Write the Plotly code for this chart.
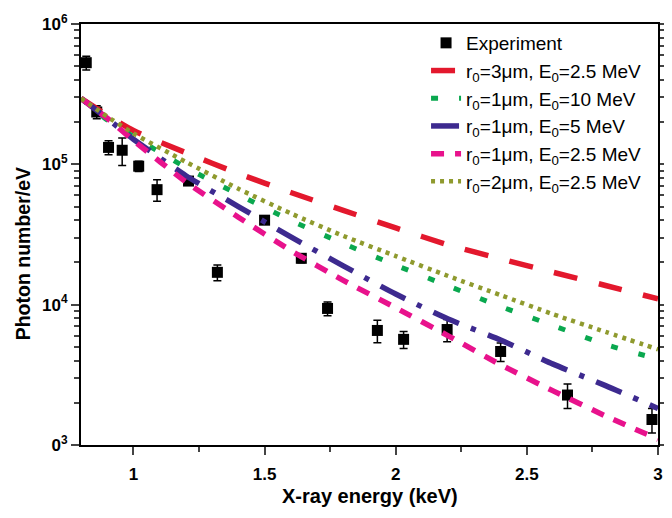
import plotly.graph_objects as go

# Experiment data (X-ray energy in keV, photon number per eV)
exp_energy = [0.82, 0.86, 0.905, 0.957, 1.02, 1.09, 1.21, 1.32, 1.50, 1.64, 1.74, 1.93, 2.03, 2.196, 2.40, 2.655, 2.977]
exp_counts = [5.3e5, 2.36e5, 1.32e5, 1.26e5, 9.7e4, 6.6e4, 7.6e4, 1.70e4, 4.0e4, 2.14e4, 9.4e3, 6.55e3, 5.66e3, 6.65e3, 4.64e3, 2.27e3, 1.52e3]
exp_err = [6.0e4, 2.5e4, 1.5e4, 2.8e4, 8.0e3, 1.15e4, 4.0e3, 2.2e3, 2.0e3, 1.5e3, 1.05e3, 1.2e3, 7.8e2, 1.2e3, 7.0e2, 4.5e2, 3.0e2]

# Model curves
model_energy = [0.8, 0.9, 1.0, 1.2, 1.4, 1.6, 1.8, 2.0, 2.2, 2.4, 2.6, 2.8, 3.0]
r3_e25 = [2.95e5, 2.24e5, 1.74e5, 1.21e5, 8.6e4, 6.3e4, 4.7e4, 3.52e4, 2.67e4, 2.12e4, 1.70e4, 1.37e4, 1.10e4]
r1_e10 = [2.95e5, 2.07e5, 1.58e5, 9.5e4, 6.1e4, 3.98e4, 2.73e4, 1.91e4, 1.36e4, 9.7e3, 7.1e3, 5.2e3, 4.1e3]
r1_e5 = [2.95e5, 2.12e5, 1.51e5, 8.3e4, 5.0e4, 3.04e4, 1.89e4, 1.19e4, 7.9e3, 5.6e3, 3.77e3, 2.65e3, 1.82e3]
r1_e25 = [2.95e5, 2.13e5, 1.48e5, 7.5e4, 4.2e4, 2.43e4, 1.49e4, 9.5e3, 6.0e3, 3.73e3, 2.43e3, 1.61e3, 1.10e3]
r2_e25 = [2.95e5, 2.19e5, 1.66e5, 1.04e5, 6.7e4, 4.47e4, 3.09e4, 2.22e4, 1.60e4, 1.17e4, 8.55e3, 6.4e3, 4.8e3]

y_tickvals = [1e3, 1e4, 1e5, 1e6]
y_ticktext = ['<b>0<sup>3</sup></b>', '<b>10<sup>4</sup></b>', '<b>10<sup>5</sup></b>', '<b>10<sup>6</sup></b>']
x_tickvals = [1, 1.5, 2, 2.5, 3]
x_ticktext = ['<b>1</b>', '<b>1.5</b>', '<b>2</b>', '<b>2.5</b>', '<b>3</b>']

fig = go.Figure()

fig.add_trace(go.Scatter(
    x=exp_energy, y=exp_counts,
    mode='markers',
    marker=dict(symbol='square', size=11, color='black'),
    error_y=dict(type='data', array=exp_err, color='black', thickness=1.5, width=4),
    name='Experiment'
))

curves = [
    (r3_e25, 'r<sub>0</sub>=3\u03bcm, E<sub>0</sub>=2.5 MeV', '#e3182d', '24px,22px', 5.5),
    (r1_e10, 'r<sub>0</sub>=1\u03bcm, E<sub>0</sub>=10 MeV', '#0aa84f', '7px,21px', 5),
    (r1_e5, 'r<sub>0</sub>=1\u03bcm, E<sub>0</sub>=5 MeV', '#3d2a8f', '28px,13px,5px,13px', 5.5),
    (r1_e25, 'r<sub>0</sub>=1\u03bcm, E<sub>0</sub>=2.5 MeV', '#e8128c', '13px,11px', 5.5),
    (r2_e25, 'r<sub>0</sub>=2\u03bcm, E<sub>0</sub>=2.5 MeV', '#8f9a2e', '4px,5px', 4.5),
]
for vals, label, color, dash, lw in curves:
    fig.add_trace(go.Scatter(
        x=model_energy, y=vals,
        mode='lines',
        line=dict(color=color, width=lw, dash=dash, shape='spline', smoothing=0.6),
        name=label
    ))

# page body adds an 8px offset, so the figure is 664x510
fig.update_layout(
    width=664, height=510,
    margin=dict(l=73, r=4, t=9, b=73),
    plot_bgcolor='white', paper_bgcolor='white',
    font=dict(family='Liberation Sans, Arial', color='black'),
    showlegend=True,
    legend=dict(x=0.598, y=1.0, xanchor='left', yanchor='top',
                bgcolor='rgba(0,0,0,0)', font=dict(size=19), tracegroupgap=0),
    annotations=[
        dict(text='<b>Photon number/eV</b>', textangle=-90,
             xref='paper', yref='paper', x=-0.1005, y=0.453,
             xanchor='center', yanchor='middle', showarrow=False,
             font=dict(size=19.5)),
        dict(text='<b>X-ray energy (keV)</b>',
             xref='paper', yref='paper', x=0.501, y=-0.1215,
             xanchor='center', yanchor='middle', showarrow=False,
             font=dict(size=20)),
    ],
)
fig.update_xaxes(
    range=[0.8, 3.0], tickvals=x_tickvals, ticktext=x_ticktext,
    ticks='outside', ticklen=8, tickwidth=1.5, tickfont=dict(size=17),
    ticklabelstandoff=5, ticklabeloverflow='allow',
    minor=dict(ticks='outside', ticklen=5, dtick=0.25, tickwidth=1.5),
    showline=True, linewidth=2, linecolor='black', mirror=True,
    showgrid=False, zeroline=False,
)
fig.update_yaxes(
    type='log', range=[3, 6], tickvals=y_tickvals, ticktext=y_ticktext,
    ticks='outside', ticklen=8, tickwidth=1.5, tickfont=dict(size=17),
    ticklabeloverflow='allow',
    minor=dict(ticks='outside', ticklen=5, dtick='D1', tickwidth=1.5),
    showline=True, linewidth=2, linecolor='black', mirror='ticks',
    showgrid=False, zeroline=False,
)

fig.write_html("out.html")
